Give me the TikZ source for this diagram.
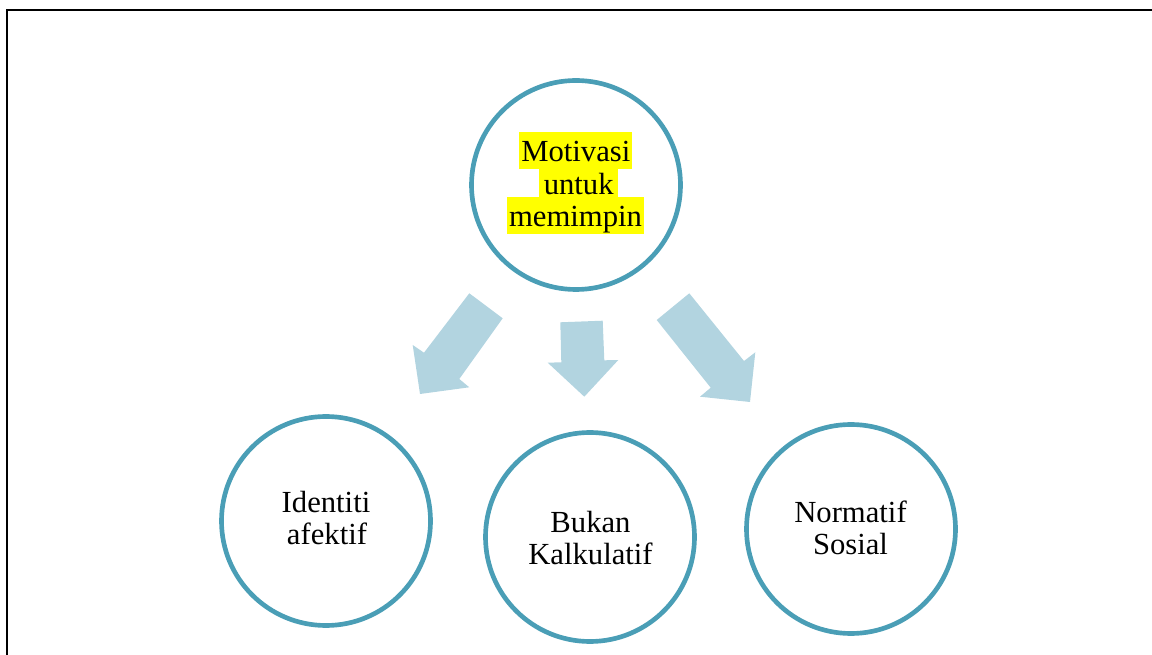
\documentclass[tikz,border=0pt]{standalone}
\usepackage{fontspec}
\setmainfont{Liberation Serif}
\definecolor{ring}{RGB}{74,158,182}
\definecolor{arrowfill}{RGB}{178,212,224}
\definecolor{hl}{RGB}{255,255,0}
\begin{document}
\begin{tikzpicture}[x=0.75pt,y=-0.75pt,
  ringnode/.style={circle,draw=ring,line width=3.5pt,minimum size=156.75pt,inner sep=0pt},
  bigarrow/.style={fill=arrowfill,draw=none},
  lbl/.style={font=\fontsize{23}{26}\selectfont,anchor=base,inner sep=0pt},
  hlbox/.style={lbl,fill=hl,text height=22.5pt,text depth=5.25pt}]
\useasboundingbox (0,0) rectangle (1152,655);
% frame
\coordinate (fl) at (7,655);
\coordinate (ftl) at (7,10);
\coordinate (fr) at (1152,10);
\draw[line width=1.6pt] (fl) -- (ftl) -- (fr);
% circles
\node[ringnode] (top) at (576,185) {};
\node[ringnode] (left) at (326,521) {};
\node[ringnode] (mid) at (590,537) {};
\node[ringnode] (right) at (851,529) {};
% arrows
\fill[bigarrow] (469.3,293.3) -- (502.7,318.3) -- (459.3,379) -- (469.3,387.3) -- (420,394) -- (412.7,345) -- (424,352.7) -- cycle;
\fill[bigarrow] (560.3,322.3) -- (602.7,320.7) -- (604.3,360.3) -- (618.3,360) -- (584.3,396.7) -- (547.7,362.7) -- (561.3,362.3) -- cycle;
\fill[bigarrow] (656.7,320) -- (689.3,293.3) -- (744,361) -- (755.3,352.3) -- (750,402) -- (700,396.7) -- (710.7,387.7) -- cycle;
% top text with highlight
\node[hlbox,minimum width=84.75pt] (m1) at (575.8,162) {Motivasi};
\node[hlbox,minimum width=59.5pt] (m2) at (578.7,195) {untuk};
\node[hlbox,minimum width=103.2pt] (m3) at (575.5,227) {memimpin};
% other labels
\node[lbl] (l1) at (326,512) {Identiti};
\node[lbl] (l2) at (327,544) {afektif};
\node[lbl] (b1) at (590.5,532) {Bukan};
\node[lbl] (b2) at (590.5,564) {Kalkulatif};
\node[lbl] (n1) at (850.5,522) {Normatif};
\node[lbl] (n2) at (850.5,554) {Sosial};
\end{tikzpicture}
\end{document}
